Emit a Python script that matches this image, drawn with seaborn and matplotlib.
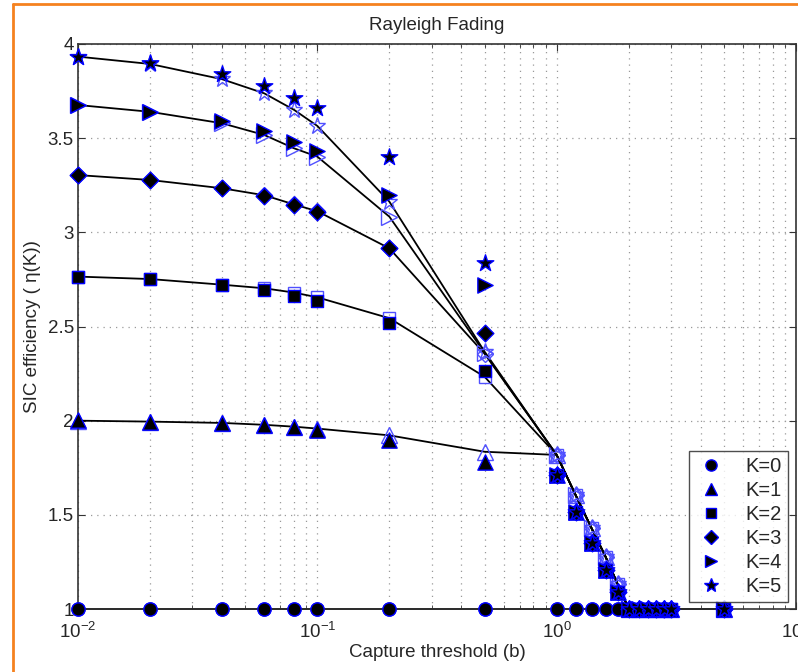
import numpy as np
import pandas as pd
import matplotlib
matplotlib.use("Agg")
import matplotlib.pyplot as plt
from matplotlib.lines import Line2D
from matplotlib.ticker import LogLocator, FixedLocator, LogFormatterSciNotation
import seaborn as sns

# Capture threshold values (b)
b_vals = [0.01, 0.02, 0.04, 0.06, 0.08, 0.1, 0.2, 0.5,
          1.0, 1.2, 1.4, 1.6, 1.8, 2.0, 2.2, 2.4, 2.6, 2.8, 3.0, 5.0]

k_labels = ["K=0", "K=1", "K=2", "K=3", "K=4", "K=5"]

# Analytical SIC efficiency (open markers + line)
ana_tail = [1.818, 1.605, 1.428, 1.278, 1.131, 1.0, 1.0, 1.0, 1.0, 1.0, 1.0, 1.0]
ana_k0 = [1.0] * 20
ana_k1 = [2.000, 1.995, 1.988, 1.978, 1.968, 1.958, 1.922, 1.835] + ana_tail
ana_k2 = [2.765, 2.752, 2.722, 2.703, 2.680, 2.655, 2.544, 2.233] + ana_tail
ana_k3 = [3.304, 3.278, 3.234, 3.197, 3.148, 3.112, 2.915, 2.355] + ana_tail
ana_k4 = [3.676, 3.640, 3.579, 3.517, 3.446, 3.402, 3.083, 2.360] + ana_tail
ana_k5 = [3.933, 3.894, 3.813, 3.738, 3.650, 3.565, 3.163, 2.366] + ana_tail

# Simulated SIC efficiency (filled markers)
sim_tail = [1.711, 1.513, 1.349, 1.207, 1.092, 1.0, 1.0, 1.0, 1.0, 1.0, 1.0, 1.0]
sim_k0 = [1.0] * 20
sim_k1 = [2.004, 1.995, 1.986, 1.977, 1.965, 1.950, 1.900, 1.782] + sim_tail
sim_k2 = [2.765, 2.752, 2.720, 2.694, 2.662, 2.635, 2.517, 2.265] + sim_tail
sim_k3 = [3.304, 3.278, 3.234, 3.195, 3.145, 3.110, 2.915, 2.467] + sim_tail
sim_k4 = [3.676, 3.637, 3.593, 3.538, 3.481, 3.432, 3.198, 2.720] + sim_tail
sim_k5 = [3.933, 3.900, 3.840, 3.777, 3.715, 3.662, 3.402, 2.835] + sim_tail

analytical = [ana_k0, ana_k1, ana_k2, ana_k3, ana_k4, ana_k5]
simulated = [sim_k0, sim_k1, sim_k2, sim_k3, sim_k4, sim_k5]

markers = ["o", "^", "s", "D", ">", "*"]
msizes = [9.5, 11, 8.5, 8.5, 11, 12.5]

sns.set_style("ticks")
plt.rcParams["font.family"] = ["Liberation Sans", "DejaVu Sans"]
plt.rcParams["mathtext.fontset"] = "custom"
plt.rcParams["mathtext.rm"] = "Liberation Sans"
plt.rcParams["mathtext.it"] = "Liberation Sans:italic"

fig = plt.figure(figsize=(7.98, 6.72), dpi=100)
ax = fig.add_axes([78 / 798, 1 - 609 / 672, (796 - 78) / 798, (609 - 44) / 672])

rows = []
for k, lab in enumerate(k_labels):
    for x, ya, ys in zip(b_vals, analytical[k], simulated[k]):
        rows.append({"b": x, "K": lab, "analytical": ya, "simulated": ys})
df = pd.DataFrame(rows)

for k, lab in enumerate(k_labels):
    sub = df[df["K"] == lab]
    # analytical curve with open markers
    sns.lineplot(data=sub, x="b", y="analytical", ax=ax, color="black",
                 lw=1.3, marker=markers[k], markersize=msizes[k],
                 mfc="none", mec="#5050ff", mew=1.0,
                 estimator=None, sort=False, clip_on=False, zorder=2)
    # simulation points with filled markers
    sns.scatterplot(data=sub, x="b", y="simulated", ax=ax, marker=markers[k],
                    s=msizes[k] ** 2, color="black", edgecolor="#0000ff",
                    linewidth=1.0, clip_on=False, zorder=3, legend=False)

ax.set_xscale("log")
ax.set_xlim(0.01, 10)
ax.set_ylim(1, 4)
ax.yaxis.set_major_locator(FixedLocator([1, 1.5, 2, 2.5, 3, 3.5, 4]))
ax.set_yticklabels(["1", "1.5", "2", "2.5", "3", "3.5", "4"])
ax.xaxis.set_major_locator(LogLocator(base=10, numticks=10))
ax.xaxis.set_minor_locator(LogLocator(base=10, subs=np.arange(2, 10), numticks=20))
ax.xaxis.set_major_formatter(LogFormatterSciNotation())

grid_style = dict(color="#9a9a9a", ls=(0, (1, 4)), lw=0.9)
ax.grid(True, which="major", axis="both", **grid_style)
ax.grid(True, which="minor", axis="x", **grid_style)
ax.set_axisbelow(True)

ax.tick_params(which="both", direction="in", top=True, right=True,
               labelsize=13.5, color="#333333")
ax.tick_params(which="major", length=5, pad=3)
ax.tick_params(which="minor", length=3)
ax.tick_params(axis="x", which="major", pad=9)
for sp in ax.spines.values():
    sp.set_visible(True)
    sp.set_color("#333333")
    sp.set_linewidth(1.2)

ax.set_title("Rayleigh Fading", fontsize=13.5, pad=10)
ax.set_xlabel("Capture threshold (b)", fontsize=13.5, labelpad=2)
ax.set_ylabel("SIC efficiency ( η(K))", fontsize=13.5, labelpad=5)

handles = [Line2D([], [], ls="none", marker=m, markersize=s * 0.85,
                  mfc="black", mec="#0000ff", mew=1.0)
           for m, s in zip(markers, msizes)]
leg = ax.legend(handles, k_labels, loc="lower right",
                bbox_to_anchor=(0.989, 0.012), borderaxespad=0,
                fontsize=14.5, frameon=True, fancybox=False,
                labelspacing=0.25, handletextpad=0.9, borderpad=0.3,
                handlelength=1.6)
leg.get_frame().set_edgecolor("#222222")
leg.get_frame().set_linewidth(1.0)

# Orange frame on the top and left edges
orange = "#f5821f"
fig.add_artist(Line2D([13 / 798, 13 / 798], [0, 1 - 4 / 672],
                      transform=fig.transFigure, color=orange, lw=2.0))
fig.add_artist(Line2D([13 / 798, 1], [1 - 4 / 672, 1 - 4 / 672],
                      transform=fig.transFigure, color=orange, lw=2.0))

fig.savefig("out.png", dpi=100, facecolor="white")
